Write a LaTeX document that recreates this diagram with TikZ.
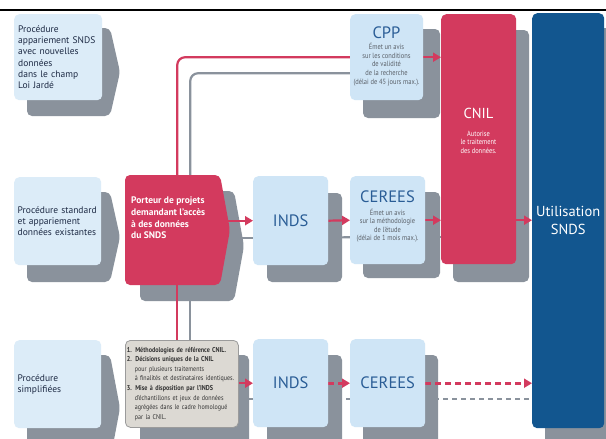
\documentclass[tikz,border=0pt]{standalone}
\usepackage{fontspec}
\setmainfont{PT Sans}
\newfontfamily\cond{PT Sans}[FakeStretch=0.86]
\usetikzlibrary{arrows.meta,calc}
\definecolor{lb}{HTML}{CFE5F6}
\definecolor{lbb}{HTML}{DCECF8}
\definecolor{sh}{HTML}{8A929C}
\definecolor{rd}{HTML}{D33A5E}
\definecolor{db}{HTML}{12568F}
\definecolor{tb}{HTML}{2A5D96}
\definecolor{sg}{HTML}{5A6068}
\definecolor{lt}{HTML}{1D2A44}
\definecolor{mf}{HTML}{DCD9D3}
\definecolor{mb}{HTML}{9B9B9B}
\pgfdeclarelayer{bg}
\pgfdeclarelayer{mid}
\pgfsetlayers{bg,mid,main}
\tikzset{
  box/.style={rounded corners=5pt, inner sep=0pt, anchor=north west},
  shade/.style={fill=sh, rounded corners=5pt},
  lbl/.style={font=\fontsize{9.5}{11.3}\selectfont, text=lt, align=left, text width=80pt},
  ttl/.style={font=\fontsize{16.5}{17}\selectfont, text=tb, inner sep=0pt},
  small/.style={font=\cond\fontsize{7.5}{8.6}\selectfont, text=sg, align=center, inner sep=0pt},
  redl/.style={draw=rd, line width=2.2pt},
  redarrow/.style={redl, -{Triangle[length=8pt,width=9pt]}},
  reddash/.style={redarrow, line width=3pt, dash pattern=on 6pt off 4pt},
  grayl/.style={draw=sh, line width=2.2pt},
  graydash/.style={grayl, dash pattern=on 5pt off 4pt}
}
\newcommand{\mbold}[1]{{\bfseries\fontsize{7.1}{9.6}\selectfont #1}}
\begin{document}
\begin{tikzpicture}[x=1pt,y=-1pt]
\useasboundingbox (0,0) rectangle (606,439);
\clip (0,0) rectangle (606,439);

% background and shadows
\begin{pgfonlayer}{bg}
\fill[white] (0,0) rectangle (606,439);
\draw[line width=1.6pt] (0,10) -- (606,10);
\fill[shade] (27,28) -- (110,28) -- (120,72) -- (110,116) -- (27,116) -- cycle;
\fill[shade] (27,192) -- (110,192) -- (120,237) -- (110,282) -- (27,282) -- cycle;
\fill[shade] (27,355) -- (110,355) -- (120,408) -- (110,461) -- (27,461) -- cycle;
\fill[shade] (140,191) -- (234,191) -- (244,246) -- (234,301) -- (140,301) -- cycle;
\fill[shade] (140,355) rectangle (249,460);
\fill[shade] (363,29) rectangle (440,118);
\fill[shade] (267,193) rectangle (342,282);
\fill[shade] (363,192) rectangle (440,278);
\fill[shade] (267,355) rectangle (342,460);
\fill[shade] (363,355) rectangle (438,460);
\fill[shade] (453,30) rectangle (529,282);
\fill[shade] (545,28) rectangle (620,460);
\end{pgfonlayer}

% boxes
\node[box, fill=lbb, minimum width=88pt, minimum height=86pt, lbl] (l1) at (14,14)
  {Procédure\\appariement SNDS\\avec nouvelles\\données\\dans le champ\\Loi Jardé};
\node[box, fill=lbb, minimum width=87pt, minimum height=88pt, lbl] (l2) at (14,177)
  {Procédure standard\\et appariement\\données existantes};
\node[box, fill=lbb, minimum width=87pt, minimum height=88pt, lbl] (l3) at (14,340)
  {Procédure\\simplifiées};

\fill[rd, rounded corners=5pt] (125,175) -- (220,175) -- (230,230) -- (220,285) -- (125,285) -- cycle;
\node[box, minimum width=95pt, minimum height=110pt] (porteur) at (125,175) {};
\node[anchor=west, inner sep=0pt, font=\bfseries\fontsize{9.5}{11.6}\selectfont, text=white, align=left]
  (porteurtxt) at (131,218) {Porteur de projets\\demandant l’accès\\à des données\\du SNDS};

\node[box, fill=mf, draw=mb, line width=0.8pt, minimum width=113pt, minimum height=87pt,
  text width=110pt, font=\cond\fontsize{7}{9.6}\selectfont, text=black!80, align=left] (methodo) at (125,340)
  {\mbold{1. Méthodologies de référence CNIL.}\\
   \mbold{2. Décisions uniques de la CNIL}\\
   \hspace*{8pt}pour plusieurs traitements\\
   \hspace*{8pt}à finalités et destinataires identiques.\\
   \mbold{3. Mise à disposition par l’INDS}\\
   \hspace*{8pt}d’échantillons et jeux de données\\
   \hspace*{8pt}agrégées dans le cadre homologué\\
   \hspace*{8pt}par la CNIL.};

\node[box, fill=lb, minimum width=73pt, minimum height=86pt] (cpp) at (350,14) {};
\node[ttl] (cpptitle) at (386.5,33) {CPP};
\node[small] (cpptxt) at (386.5,64.5) {Émet un avis\\sur les conditions\\de validité\\de la recherche\\(délai de 45 jours max.).};

\node[box, fill=lb, minimum width=75pt, minimum height=89pt, ttl] (inds2) at (253,176) {INDS};

\node[box, fill=lb, minimum width=75pt, minimum height=88pt] (cerees2) at (350,176) {};
\node[ttl] (cerees2title) at (387.5,197) {CEREES};
\node[small] (cerees2txt) at (387.5,225.5) {Émet un avis\\sur la méthodologie\\de l’étude\\(délai de 1 mois max.).};

\node[box, fill=lb, minimum width=75pt, minimum height=88pt, ttl] (inds3) at (253,339) {INDS};
\node[box, fill=lb, minimum width=75pt, minimum height=88pt, ttl] (cerees3) at (350,339) {CEREES};

\node[box, fill=rd, minimum width=75pt, minimum height=250pt] (cnil) at (441,14) {};
\node[inner sep=0pt, font=\fontsize{14.5}{15}\selectfont, text=white] (cniltitle) at (478.5,113) {CNIL};
\node[small, text=white] (cniltxt) at (478.5,142) {Autorise\\le traitement\\des données.};

\node[box, fill=db, minimum width=72pt, minimum height=415pt, font=\fontsize{14.5}{17.5}\selectfont,
  text=white, align=center] (snds) at (532,13) {Utilisation\\SNDS};

% connectors
\begin{pgfonlayer}{mid}
\draw[grayl, rounded corners=8pt] ([xshift=17.5pt]porteur.north) |- ([yshift=-16pt]cpp.west);
\draw[redl, rounded corners=8pt] ([xshift=4.5pt]porteur.north) |- (cpp.west);
\draw[redarrow] (cpp.east) -- (cpp.east -| cnil.west);

\draw[grayl] ([xshift=17.5pt]porteur.south) -- ([xshift=17.5pt]porteur.south |- methodo.north);
\draw[redl] ([xshift=4.5pt]porteur.south) -- ([xshift=4.5pt]porteur.south |- methodo.north);

\draw[grayl] ([yshift=-17pt]inds2.west -| porteur.east) -- ([yshift=-17pt]inds2.west);
\draw[redarrow] (inds2.west -| porteur.east) -- (inds2.west);
\draw[grayl] ([yshift=-17pt]inds2.east) -- ([yshift=-17pt]cerees2.west);
\draw[redarrow] (inds2.east) -- (cerees2.west);
\draw[grayl] ([yshift=-17pt]cerees2.east) -- ([yshift=-17pt]cerees2.east -| cnil.west);
\draw[redarrow] (cerees2.east) -- (cerees2.east -| cnil.west);
\draw[redarrow] (cerees2.east -| cnil.east) -- (cerees2.east -| snds.west);

\draw[grayl] ([yshift=-16pt]inds3.west -| methodo.east) -- ([yshift=-16pt]inds3.west);
\draw[redarrow] (inds3.west -| methodo.east) -- (inds3.west);
\draw[graydash] ([yshift=-16pt]inds3.east) -- ([yshift=-16pt]cerees3.west);
\draw[reddash] (inds3.east) -- (cerees3.west);
\draw[graydash] ([yshift=-16pt]cerees3.east) -- ([yshift=-16pt]cerees3.east -| snds.west);
\draw[reddash] (cerees3.east) -- (cerees3.east -| snds.west);
\end{pgfonlayer}
\end{tikzpicture}
\end{document}
